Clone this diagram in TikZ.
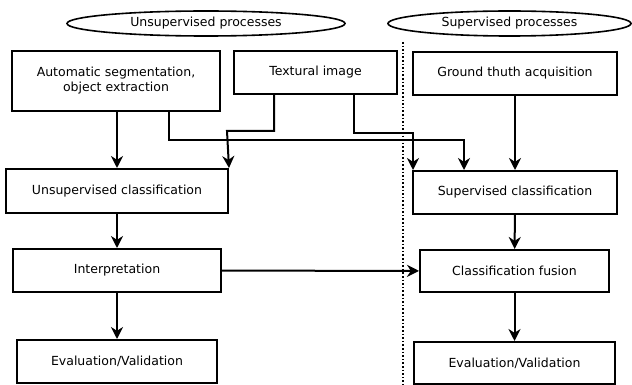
\documentclass[tikz,border=0pt]{standalone}
\usepackage{fontspec}
\setmainfont{DejaVu Sans}
\usepackage{tikz}
\usetikzlibrary{positioning,shapes.geometric,arrows.meta}

\begin{document}
\begin{tikzpicture}[%
    x=1pt,
    y=-1pt,
    line width=2pt,
    >={Stealth[length=12pt,width=12pt]},
    font=\fontsize{12.5}{15}\selectfont,
    box/.style={%
      rectangle,
      draw,
      anchor=north west,
      align=center,
      inner sep=0pt
    },
    group/.style={%
      ellipse,
      draw,
      inner sep=0pt,
      line width=1.6pt
    }
  ]
    \useasboundingbox (0,0) rectangle (632,385);

    % the two halves
    \node[group, minimum width=278pt, minimum height=25pt] (unsup) at (206,23.5) {Unsupervised processes};
    \node[group, minimum width=243pt, minimum height=25pt] (sup)   at (509.5,23.5) {Supervised processes};

    \coordinate (divtop) at (403,42);
    \coordinate (divbot) at (403,385);
    \draw[dotted, line width=1.6pt] (divtop) -- (divbot);

    % unsupervised side
    \node[box, minimum width=208pt, minimum height=60pt] (seg)    at (11,50)  {Automatic segmentation,\\object extraction};
    \node[box, minimum width=163pt, minimum height=43pt] (tex)    at (233,50) {Textural image};
    \node[box, minimum width=222pt, minimum height=44pt] (uclass) at (5,168)  {Unsupervised classification};
    \node[box, minimum width=208pt, minimum height=43pt] (interp) at (12,248) {Interpretation};
    \node[box, minimum width=200pt, minimum height=43pt] (evalu)  at (16,339) {Evaluation/Validation};

    % supervised side
    \node[box, minimum width=204pt, minimum height=43pt] (truth)  at (412,51)  {Ground thuth acquisition};
    \node[box, minimum width=204pt, minimum height=43pt] (sclass) at (412,170) {Supervised classification};
    \node[box, minimum width=189pt, minimum height=42pt] (fusion) at (419,249) {Classification fusion};
    \node[box, minimum width=201pt, minimum height=42pt] (evals)  at (413,341) {Evaluation/Validation};

    \draw[->] (seg.south -| uclass.north) -- (uclass.north);
    \draw[->] ([xshift=-52pt]seg.south east) |- (464,140) -- (sclass.north -| 464,0);
    \draw[->] ([xshift=41pt]tex.south west) |- (227,131) -- (uclass.north east);
    \draw[->] ([xshift=121pt]tex.south west) |- (413,133) -- ([xshift=1pt]sclass.north west);
    \draw[->] (truth) -- (sclass);

    \draw[->] (uclass.south -| interp.north) -- (interp);
    \draw[->] (interp) -- (evalu);
    \draw[->] (interp) -- (fusion);
    \draw[->] (sclass) -- (fusion);
    \draw[->] (fusion) -- (evals);
\end{tikzpicture}
\end{document}
